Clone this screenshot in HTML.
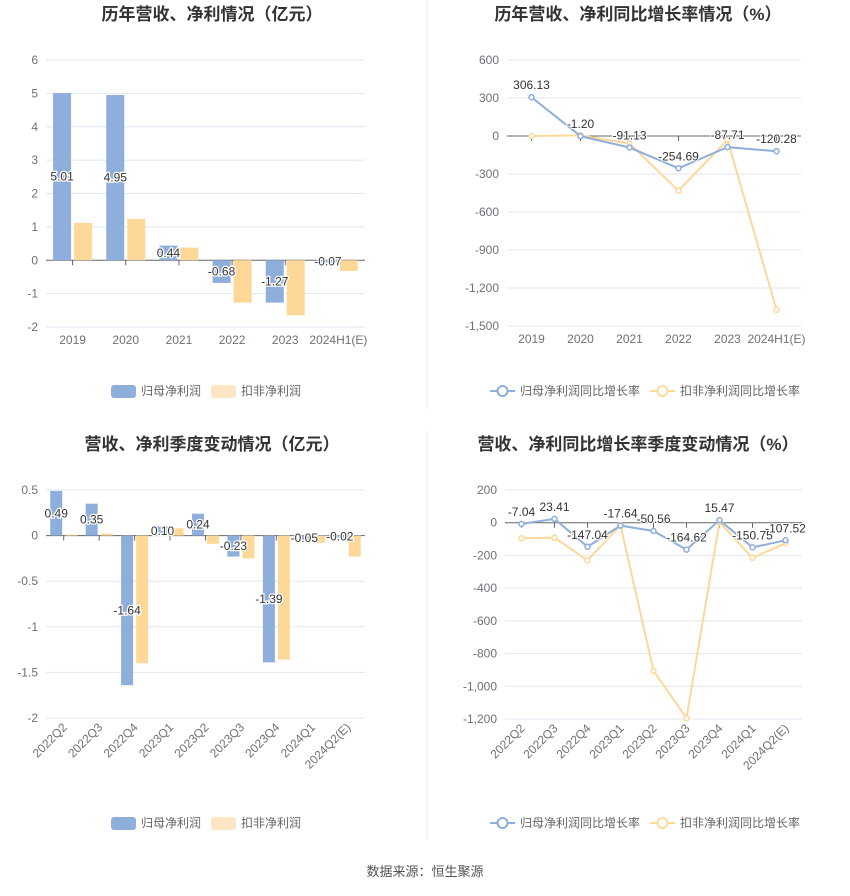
<!DOCTYPE html>
<html><head><meta charset="utf-8"><style>
body{margin:0;background:#fff;font-family:"Liberation Sans","Noto Sans CJK SC",sans-serif;}
svg text{font-family:"Liberation Sans","Noto Sans CJK SC",sans-serif;}
</style></head><body>
<svg id="s" width="850" height="891" xmlns="http://www.w3.org/2000/svg">
<line x1="427" y1="0" x2="427" y2="410" stroke="#eee"/>
<line x1="427" y1="430" x2="427" y2="840" stroke="#eee"/>
<text x="212" y="20" text-anchor="middle" font-size="17" font-weight="bold" fill="#333">历年营收、净利情况（亿元）</text>
<text x="638" y="20" text-anchor="middle" font-size="17" font-weight="bold" fill="#333">历年营收、净利同比增长率情况（%）</text>
<text x="212" y="450" text-anchor="middle" font-size="17" font-weight="bold" fill="#333">营收、净利季度变动情况（亿元）</text>
<text x="638" y="450" text-anchor="middle" font-size="17" font-weight="bold" fill="#333">营收、净利同比增长率季度变动情况（%）</text>
<text x="425" y="876" text-anchor="middle" font-size="13" fill="#555">数据来源：恒生聚源</text>
</svg>
<script>
const yearCats=["2019","2020","2021","2022","2023","2024H1(E)"];
const yearNet=[5.01,4.95,0.44,-0.68,-1.27,-0.07];
const yearDed=[1.12,1.24,0.38,-1.27,-1.65,-0.32];
const yearTicks=[6,5,4,3,2,1,0,-1,-2];
const yearNetG=[306.13,-1.20,-91.13,-254.69,-87.71,-120.28];
const yearDedG=[0,5,-60,-432,-30,-1372];
const yearGTicks=[600,300,0,-300,-600,-900,-1200,-1500];
const qCats=["2022Q2","2022Q3","2022Q4","2023Q1","2023Q2","2023Q3","2023Q4","2024Q1","2024Q2(E)"];
const qNet=[0.49,0.35,-1.64,0.10,0.24,-0.23,-1.39,-0.05,-0.02];
const qDed=[0.01,0.02,-1.40,0.08,-0.09,-0.25,-1.36,-0.08,-0.23];
const qTicks=[0.5,0,-0.5,-1,-1.5,-2];
const qNetG=[-7.04,23.41,-147.04,-17.64,-50.56,-164.62,15.47,-150.75,-107.52];
const qDedG=[-95,-92,-230,-15,-905,-1195,5,-215,-125];
const qGTicks=[200,0,-200,-400,-600,-800,-1000,-1200];

const S=document.getElementById('s');const NS="http://www.w3.org/2000/svg";
function mk(t,a,txt){const e=document.createElementNS(NS,t);for(const k in a)e.setAttribute(k,a[k]);if(txt!=null)e.textContent=txt;S.appendChild(e);return e;}
function fmt(v){const s=Math.abs(v).toLocaleString('en-US');return (v<0?'-':'')+s;}
function axes(x0,x1,yTop,yBot,ticks,cats,rot,name){
 const tmax=ticks[0],tmin=ticks[ticks.length-1];
 const y=v=>yTop+(tmax-v)/(tmax-tmin)*(yBot-yTop);
 const bw=(x1-x0)/cats.length;const x=i=>x0+bw*(i+0.5);
 ticks.forEach(t=>{
  const l=mk('line',{x1:x0,x2:x1,y1:y(t),y2:y(t),stroke:t===0?'#666':'#e0e6f1'});
  
  
  const tx=mk('text',{x:x0-8,y:y(t)+4,'text-anchor':'end','font-size':12,fill:'#6e7079'},fmt(t));
  
  
 });
 cats.forEach((c,i)=>{
  const tk=mk('line',{x1:x(i),x2:x(i),y1:y(0),y2:y(0)+5,stroke:'#666'});
  
  
  let tx;
  if(rot){tx=mk('text',{x:x(i)+4,y:yBot+10,'text-anchor':'end','font-size':12,fill:'#6e7079',transform:`rotate(-45 ${x(i)+4} ${yBot+10})`},c);}
  else tx=mk('text',{x:x(i),y:yBot+17,'text-anchor':'middle','font-size':12,fill:'#6e7079'},c);
  
  
 });
 return {x,y,bw};
}
function bars(ax,a,b,w,name){
 a.forEach((v,i)=>{
  const xc=ax.x(i);
  const r1=mk('rect',{x:xc-w-1.5,y:Math.min(ax.y(v),ax.y(0)),width:w,height:Math.abs(ax.y(v)-ax.y(0)),fill:'#8eaedb'});
  
  
  const r2=mk('rect',{x:xc+1.5,y:Math.min(ax.y(b[i]),ax.y(0)),width:w,height:Math.abs(ax.y(b[i])-ax.y(0)),fill:'#fed898'});
  
  
  const lx=xc-w/2-1.5,ly=(ax.y(v)+ax.y(0))/2+4;
  const t=mk('text',{x:lx,y:ly,'text-anchor':'middle','font-size':12,fill:'#333',stroke:'#fff','stroke-width':2.5,'paint-order':'stroke'},v.toFixed(2));
  
  
 });
}
function lines(ax,a,b,name){
 [[b,'#fed898','deducted'],[a,'#8eaedb','net']].forEach(([d,c,n])=>{
  const p=mk('polyline',{points:d.map((v,i)=>ax.x(i)+','+ax.y(v)).join(' '),fill:'none',stroke:c,'stroke-width':2});
  
  
  d.forEach((v,i)=>{
   const ci=mk('circle',{cx:ax.x(i),cy:ax.y(v),r:2.5,fill:'#fff',stroke:c,'stroke-width':1.5});
   
   
  });
 });
 a.forEach((v,i)=>{
  const t=mk('text',{x:ax.x(i),y:ax.y(v)-8,'text-anchor':'middle','font-size':12,fill:'#333',stroke:'#fff','stroke-width':2,'paint-order':'stroke'},v.toFixed(2));
  
  
 });
}
function legend(cx,y,isLine,name){
 const items=isLine?[['归母净利润同比增长率','#8eaedb'],['扣非净利润同比增长率','#fed898']]:[['归母净利润','#8eaedb'],['扣非净利润','#fed898']];
 const widths=items.map(it=>30+it[0].length*12);const tot=widths[0]+widths[1]+10;
 let x=cx-tot/2;
 items.forEach((it,i)=>{
  if(isLine){
   const l=mk('line',{x1:x,x2:x+25,y1:y,y2:y,stroke:it[1],'stroke-width':2});
   
   
   const c=mk('circle',{cx:x+12.5,cy:y,r:5,fill:'#fff',stroke:it[1],'stroke-width':2});
   
   
  }else{
   const r=mk('rect',{x:x,y:y-6,width:25,height:13,rx:3,fill:i?'#fde6c4':it[1]});
   
   
  }
  const t=mk('text',{x:x+30,y:y+4,'font-size':12,fill:'#666'},it[0]);
  
  
  x+=widths[i]+10;
 });
}
let a1=axes(46,365,60,327,yearTicks,yearCats,false,'chart1');bars(a1,yearNet,yearDed,18,'chart1');legend(206,391,false,'chart1');
let a2=axes(507,801,60,326,yearGTicks,yearCats,false,'chart2');lines(a2,yearNetG,yearDedG,'chart2');legend(645,391,true,'chart2');
let a3=axes(46,365,490,718,qTicks,qCats,true,'chart3');bars(a3,qNet,qDed,12,'chart3');legend(206,823,false,'chart3');
let a4=axes(505,802,490,719,qGTicks,qCats,true,'chart4');lines(a4,qNetG,qDedG,'chart4');legend(645,823,true,'chart4');
</script>
</body></html>
